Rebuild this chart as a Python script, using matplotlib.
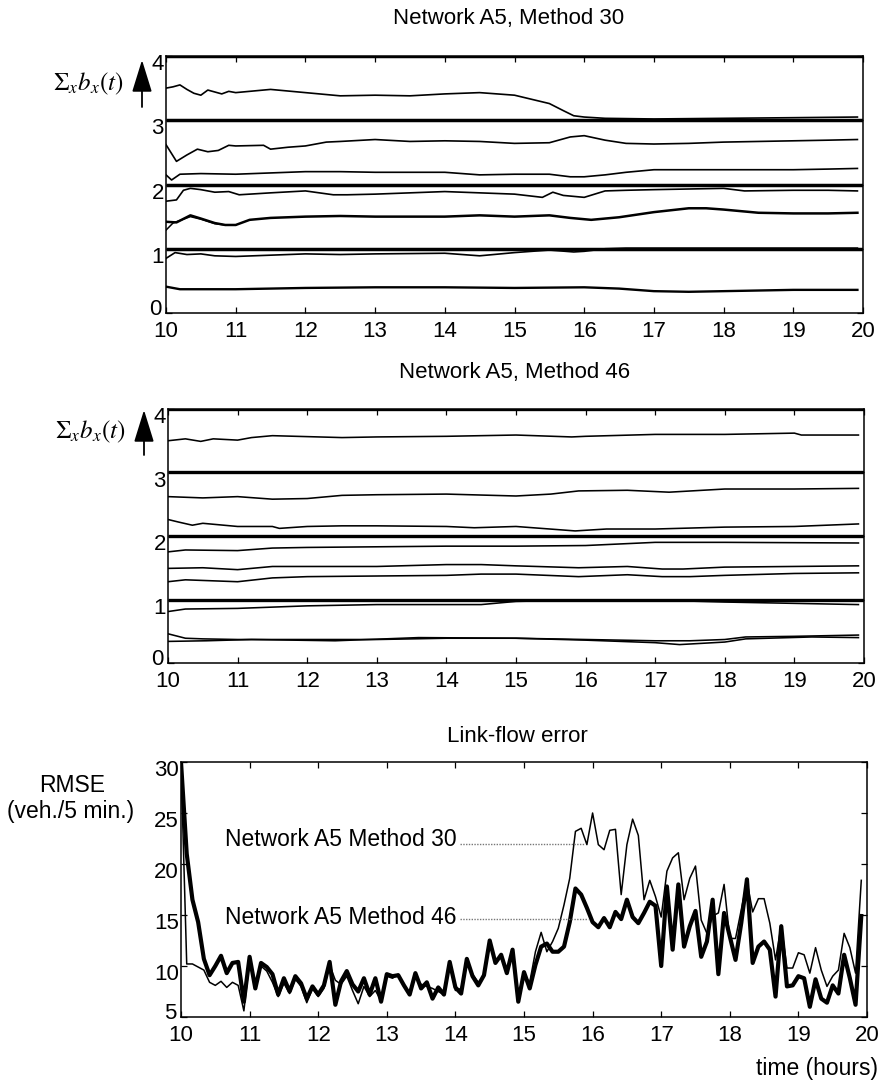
import numpy as np
import matplotlib
matplotlib.use("Agg")
import matplotlib.pyplot as plt
from matplotlib.transforms import ScaledTranslation

plt.rcParams['font.family'] = ['Liberation Sans', 'DejaVu Sans']
plt.rcParams['mathtext.fontset'] = 'stix'

# ---------------- data ----------------
x_ticks = [10, 11, 12, 13, 14, 15, 16, 17, 18, 19, 20]
sum_ticks = [0, 1, 2, 3, 4]
rmse_ticks = [5, 10, 15, 20, 25, 30]
levels = [1, 2, 3, 4]

# Method 30: cumulative route-choice sums
m30_a_hours = [10.0, 10.1, 10.2, 10.3, 10.4, 10.5, 10.6, 10.7, 10.8, 10.9, 11.0, 11.5, 12.0, 12.5,
               13.0, 13.5, 14.0, 14.5, 15.0, 15.5, 15.7, 15.85, 16.0, 16.3, 17.0, 18.0, 19.0, 19.92]
m30_a_vals = [3.50, 3.52, 3.55, 3.48, 3.42, 3.39, 3.47, 3.44, 3.41, 3.45, 3.43, 3.48, 3.43, 3.38,
              3.39, 3.38, 3.41, 3.43, 3.39, 3.26, 3.15, 3.07, 3.05, 3.03, 3.02, 3.03, 3.04, 3.05]
m30_b_hours = [10.0, 10.15, 10.3, 10.45, 10.6, 10.75, 10.9, 11.0, 11.4, 11.5, 11.75, 12.0, 12.3, 12.5,
               13.0, 13.5, 14.0, 14.5, 15.0, 15.5, 15.8, 16.0, 16.3, 16.6, 17.0, 17.5, 18.0, 18.5,
               19.0, 19.5, 19.92]
m30_b_vals = [2.62, 2.36, 2.46, 2.55, 2.51, 2.53, 2.61, 2.60, 2.61, 2.55, 2.58, 2.60, 2.66, 2.67,
              2.70, 2.67, 2.68, 2.67, 2.64, 2.65, 2.74, 2.76, 2.69, 2.64, 2.63, 2.64, 2.66, 2.67,
              2.68, 2.69, 2.70]
m30_c_hours = [10.0, 10.08, 10.2, 10.5, 11.0, 11.5, 12.0, 12.5, 13.0, 14.0, 14.5, 15.0, 15.5, 15.8,
               16.0, 16.3, 16.6, 17.0, 18.0, 19.0, 19.5, 19.92]
m30_c_vals = [2.15, 2.07, 2.16, 2.17, 2.16, 2.18, 2.20, 2.20, 2.19, 2.19, 2.15, 2.16, 2.16, 2.12,
              2.12, 2.15, 2.19, 2.23, 2.23, 2.23, 2.24, 2.25]
m30_d_hours = [10.0, 10.15, 10.25, 10.35, 10.5, 10.7, 10.9, 11.05, 11.5, 12.0, 12.4, 12.6, 13.0,
               13.5, 14.0, 14.5, 15.0, 15.4, 15.55, 15.7, 16.0, 16.3, 16.6, 17.0, 17.5, 18.0,
               18.3, 19.0, 19.5, 19.92]
m30_d_vals = [1.74, 1.76, 1.91, 1.94, 1.92, 1.88, 1.89, 1.84, 1.87, 1.90, 1.84, 1.84, 1.85,
              1.87, 1.89, 1.87, 1.85, 1.80, 1.88, 1.83, 1.80, 1.90, 1.91, 1.92, 1.93, 1.94,
              1.90, 1.91, 1.91, 1.90]
m30_e_hours = [10.0, 10.15, 10.35, 10.5, 10.7, 10.85, 11.0, 11.2, 11.5, 11.75, 12.0, 12.5, 13.0,
               14.0, 14.5, 15.0, 15.5, 15.8, 16.1, 16.5, 17.0, 17.5, 17.75, 18.0, 18.5, 19.0,
               19.5, 19.92]
m30_e_vals = [1.42, 1.41, 1.52, 1.47, 1.40, 1.37, 1.37, 1.45, 1.48, 1.49, 1.50, 1.51, 1.50,
              1.50, 1.52, 1.50, 1.52, 1.48, 1.45, 1.49, 1.57, 1.63, 1.63, 1.61, 1.56, 1.55,
              1.55, 1.56]
m30_e2_hours = [10.0, 10.1, 10.2, 10.35, 10.5, 10.7, 10.85, 11.0]
m30_e2_vals = [1.29, 1.40, 1.44, 1.50, 1.46, 1.39, 1.37, 1.37]
m30_f_hours = [10.0, 10.13, 10.3, 10.5, 10.7, 11.0, 11.5, 12.0, 12.5, 13.0, 14.0, 14.5, 15.0,
               15.5, 15.85, 16.0, 16.3, 16.6, 17.0, 18.0, 19.0, 19.92]
m30_f_vals = [0.85, 0.94, 0.91, 0.92, 0.89, 0.88, 0.90, 0.92, 0.91, 0.92, 0.93, 0.89, 0.94,
              0.98, 0.95, 0.96, 1.00, 1.01, 1.01, 1.01, 1.01, 1.01]
m30_g_hours = [10.0, 10.2, 11.0, 12.0, 13.0, 14.0, 15.0, 16.0, 16.5, 17.0, 17.5, 18.0, 19.0, 19.92]
m30_g_vals = [0.41, 0.37, 0.37, 0.39, 0.40, 0.40, 0.39, 0.40, 0.38, 0.34, 0.33, 0.34, 0.36, 0.36]

# Method 46: cumulative route-choice sums
m46_a_hours = [10.0, 10.25, 10.47, 10.65, 11.0, 11.2, 11.5, 12.5, 13.0, 14.0, 15.0, 15.8, 16.0,
               17.0, 18.0, 19.0, 19.1, 19.92]
m46_a_vals = [3.50, 3.53, 3.49, 3.53, 3.51, 3.55, 3.58, 3.55, 3.56, 3.57, 3.59, 3.56, 3.57,
              3.60, 3.60, 3.62, 3.59, 3.59]
m46_b_hours = [10.0, 10.5, 11.0, 11.5, 12.0, 12.5, 13.0, 14.0, 15.0, 15.5, 15.9, 16.6, 17.2,
               18.0, 19.0, 19.92]
m46_b_vals = [2.62, 2.60, 2.62, 2.58, 2.59, 2.64, 2.65, 2.66, 2.63, 2.66, 2.71, 2.72, 2.69,
              2.74, 2.74, 2.75]
m46_c_hours = [10.0, 10.15, 10.35, 10.5, 11.0, 11.5, 11.6, 12.0, 12.5, 13.0, 14.0, 14.4, 15.0,
               15.85, 16.3, 17.0, 18.0, 19.0, 19.92]
m46_c_vals = [2.26, 2.22, 2.17, 2.20, 2.15, 2.15, 2.12, 2.15, 2.16, 2.16, 2.15, 2.13, 2.15,
              2.08, 2.11, 2.11, 2.14, 2.15, 2.19]
m46_d_hours = [10.0, 10.25, 11.0, 11.5, 12.0, 13.0, 14.0, 15.0, 16.0, 17.0, 18.0, 19.92]
m46_d_vals = [1.75, 1.78, 1.77, 1.81, 1.82, 1.83, 1.84, 1.84, 1.85, 1.90, 1.90, 1.89]
m46_e_hours = [10.0, 10.5, 11.0, 11.5, 12.0, 13.0, 14.0, 14.5, 15.0, 15.9, 16.6, 17.1, 17.4,
               18.0, 19.92]
m46_e_vals = [1.49, 1.50, 1.47, 1.52, 1.52, 1.52, 1.55, 1.55, 1.53, 1.50, 1.52, 1.48, 1.48,
              1.51, 1.53]
m46_f_hours = [10.0, 10.25, 11.0, 11.5, 12.0, 13.0, 14.0, 14.5, 15.0, 15.9, 16.6, 17.1, 17.5,
               18.0, 19.0, 19.92]
m46_f_vals = [1.28, 1.31, 1.28, 1.34, 1.36, 1.37, 1.38, 1.40, 1.40, 1.36, 1.39, 1.36, 1.36,
              1.38, 1.41, 1.42]
m46_g_hours = [10.0, 10.25, 11.0, 12.0, 13.0, 14.0, 14.5, 15.0, 15.9, 17.0, 18.0, 19.92]
m46_g_vals = [0.81, 0.85, 0.86, 0.90, 0.92, 0.92, 0.92, 0.97, 0.99, 0.99, 0.96, 0.92]
m46_h_hours = [10.0, 10.25, 10.5, 11.0, 12.0, 13.0, 14.0, 15.0, 16.0, 17.0, 17.5, 18.0, 18.3,
               19.0, 19.92]
m46_h_vals = [0.46, 0.39, 0.38, 0.37, 0.37, 0.37, 0.39, 0.39, 0.37, 0.35, 0.35, 0.37, 0.41,
              0.42, 0.44]
m46_i_hours = [10.0, 10.55, 11.2, 12.4, 13.6, 15.0, 16.0, 17.0, 17.35, 18.0, 18.3, 19.25, 19.92]
m46_i_vals = [0.34, 0.35, 0.37, 0.35, 0.40, 0.39, 0.36, 0.32, 0.29, 0.33, 0.38, 0.41, 0.40]

# Link-flow RMSE, one value per 5-minute interval from 10:00 to 19:55
rmse_hours = 10 + np.arange(120) * 5 / 60
rmse_m30 = [30.0, 10.2, 10.2, 9.9, 9.6, 8.4, 8.1, 8.5, 7.9, 8.4,
            8.1, 5.6, 10.5, 8.0, 10.0, 9.5, 8.4, 7.0, 8.3, 7.3,
            8.7, 8.0, 6.4, 7.8, 7.0, 7.8, 10.1, 8.6, 8.2, 9.0,
            7.6, 6.3, 8.0, 7.0, 7.6, 6.6, 9.0, 8.8, 9.2, 8.0,
            7.3, 9.0, 8.2, 8.0, 7.8, 7.5, 7.2, 10.2, 7.6, 7.8,
            10.5, 9.2, 8.4, 9.0, 12.3, 10.5, 11.0, 9.6, 11.4, 6.8,
            9.1, 8.4, 11.4, 13.3, 11.4, 12.4, 13.7, 16.0, 18.6, 23.2,
            23.5, 21.9, 25.0, 21.9, 21.4, 23.3, 23.4, 17.0, 21.9, 24.4,
            22.8, 16.5, 18.4, 16.8, 14.8, 19.3, 20.6, 21.1, 16.5, 18.6,
            19.8, 14.5, 13.2, 14.9, 15.2, 18.0, 12.7, 12.7, 15.5, 18.3,
            15.3, 16.6, 16.6, 14.2, 10.6, 14.0, 9.8, 9.8, 11.3, 11.1,
            9.3, 11.8, 9.6, 8.0, 9.0, 9.6, 13.2, 11.8, 9.3, 18.4]
rmse_m46 = [30.0, 21.0, 16.5, 14.3, 10.7, 9.1, 10.0, 11.0, 9.3, 10.3,
            10.4, 6.5, 10.9, 7.8, 10.3, 9.9, 9.2, 7.2, 8.8, 7.5,
            9.0, 8.3, 6.8, 8.0, 7.2, 8.1, 10.4, 6.2, 8.5, 9.5,
            8.2, 7.5, 8.8, 7.2, 8.8, 6.5, 9.2, 9.0, 9.1, 8.1,
            7.2, 9.3, 7.8, 8.4, 6.8, 7.9, 7.2, 10.4, 7.9, 7.3,
            10.7, 9.0, 8.1, 9.1, 12.5, 10.3, 11.1, 9.3, 11.6, 6.5,
            9.4, 7.8, 10.1, 11.9, 12.2, 11.4, 11.4, 11.9, 14.3, 17.6,
            17.0, 15.7, 14.3, 13.8, 14.7, 13.8, 15.3, 14.6, 16.5, 14.8,
            14.2, 15.2, 16.3, 15.9, 10.0, 17.8, 11.6, 18.0, 11.9, 13.9,
            15.4, 10.9, 12.4, 16.5, 9.2, 15.2, 12.9, 10.6, 14.2, 18.5,
            10.3, 11.9, 12.4, 11.6, 7.0, 13.9, 8.0, 8.1, 9.0, 8.8,
            6.0, 8.7, 6.8, 6.4, 8.1, 7.3, 11.1, 8.8, 6.2, 14.9]

label_m30 = "Network A5 Method 30"
label_m46 = "Network A5 Method 46"
label_m30_at = (10.64, 21.75)
label_m46_at = (10.64, 14.15)
leader_m30 = ([14.07, 15.89], [22.0, 22.0])
leader_m46 = ([14.07, 15.93], [14.6, 14.6])

# ---------------- layout ----------------
W, H = 883, 1084
fig = plt.figure(figsize=(W / 100, H / 100), dpi=100)
fig.patch.set_facecolor('white')


def axes_px(left, top, right, bottom):
    return fig.add_axes([left / W, 1 - bottom / H, (right - left) / W, (bottom - top) / H])


def fig_xy(x, y):
    return x / W, 1 - y / H


def style_axes(ax, yticks, ylim):
    ax.set_xlim(10, 20)
    ax.set_ylim(*ylim)
    ax.set_xticks(x_ticks)
    ax.set_yticks(yticks)
    ax.tick_params(direction='in', top=True, right=True, length=4.5, width=0.9,
                   labelsize=16, colors='black')
    ax.tick_params(axis='x', pad=5.5)
    ax.tick_params(axis='y', pad=1.5)
    for s in ax.spines.values():
        s.set_linewidth(1.1)
        s.set_color('black')


def up_arrow(x, y_tail, y_head):
    fig.add_artist(matplotlib.patches.FancyArrowPatch(
        fig_xy(x, y_tail), fig_xy(x, y_head), transform=fig.transFigure,
        arrowstyle='-|>,head_length=2.0,head_width=0.62', mutation_scale=10,
        lw=1.3, color='black', shrinkA=0, shrinkB=0))


sum_label = r'$\Sigma_x b_x(t)$'

# Panel 1: Method 30
ax1 = axes_px(166, 56, 863, 313)
for lv in levels:
    ax1.plot([10, 20], [lv, lv], color='black', lw=2.5, solid_capstyle='butt')
for hrs, vals, lw in [(m30_a_hours, m30_a_vals, 1.2), (m30_b_hours, m30_b_vals, 1.2),
                      (m30_c_hours, m30_c_vals, 1.2), (m30_d_hours, m30_d_vals, 1.2),
                      (m30_e_hours, m30_e_vals, 1.8), (m30_e2_hours, m30_e2_vals, 1.1),
                      (m30_f_hours, m30_f_vals, 1.2), (m30_g_hours, m30_g_vals, 1.7)]:
    ax1.plot(hrs, vals, color='black', lw=lw)
style_axes(ax1, sum_ticks, (0, 4))
fig.text(*fig_xy(509, 24), "Network A5, Method 30", ha='center', va='baseline', fontsize=16)
fig.text(*fig_xy(88, 84), sum_label, ha='center', va='center', fontsize=18)
up_arrow(142, 107, 60)

# Panel 2: Method 46
ax2 = axes_px(168, 409, 864, 663)
for lv in levels:
    ax2.plot([10, 20], [lv, lv], color='black', lw=2.4, solid_capstyle='butt')
for hrs, vals in [(m46_a_hours, m46_a_vals), (m46_b_hours, m46_b_vals),
                  (m46_c_hours, m46_c_vals), (m46_d_hours, m46_d_vals),
                  (m46_e_hours, m46_e_vals), (m46_f_hours, m46_f_vals),
                  (m46_g_hours, m46_g_vals), (m46_h_hours, m46_h_vals),
                  (m46_i_hours, m46_i_vals)]:
    ax2.plot(hrs, vals, color='black', lw=1.15)
style_axes(ax2, sum_ticks, (0, 4))
fig.text(*fig_xy(515, 378), "Network A5, Method 46", ha='center', va='baseline', fontsize=16)
fig.text(*fig_xy(90, 432), sum_label, ha='center', va='center', fontsize=18)
up_arrow(144, 455, 410)

# Panel 3: link-flow error
ax3 = axes_px(181, 762, 867, 1017)
ax3.plot(rmse_hours, rmse_m30, color='black', lw=1.1)
ax3.plot(rmse_hours, rmse_m46, color='black', lw=3.0)
ax3.plot(*leader_m30, color='#777777', lw=1.0, ls=(0, (1, 1)))
ax3.plot(*leader_m46, color='#777777', lw=1.0, ls=(0, (1, 1)))
ax3.text(*label_m30_at, label_m30, fontsize=16.5, va='baseline', ha='left')
ax3.text(*label_m46_at, label_m46, fontsize=16.5, va='baseline', ha='left')
style_axes(ax3, rmse_ticks, (5, 30))
fig.text(*fig_xy(517, 742), "Link-flow error", ha='center', va='baseline', fontsize=16)
fig.text(*fig_xy(72, 792), "RMSE", ha='center', va='baseline', fontsize=16.5)
fig.text(*fig_xy(71, 818), "(veh./5 min.)", ha='center', va='baseline', fontsize=16.5)
fig.text(*fig_xy(878, 1075), "time (hours)", ha='right', va='baseline', fontsize=16.5)

# nudge y tick labels slightly downward; lift the bottom one clear of the x labels
shift_down = ScaledTranslation(0, -4.5 / 72, fig.dpi_scale_trans)
shift_up = ScaledTranslation(-1.5 / 72, 4.0 / 72, fig.dpi_scale_trans)
for ax in (ax1, ax2, ax3):
    labs = ax.get_yticklabels()
    labs[0].set_transform(labs[0].get_transform() + shift_up)
    for lab in labs[1:]:
        lab.set_transform(lab.get_transform() + shift_down)

fig.savefig("out.png", dpi=100, facecolor='white')
